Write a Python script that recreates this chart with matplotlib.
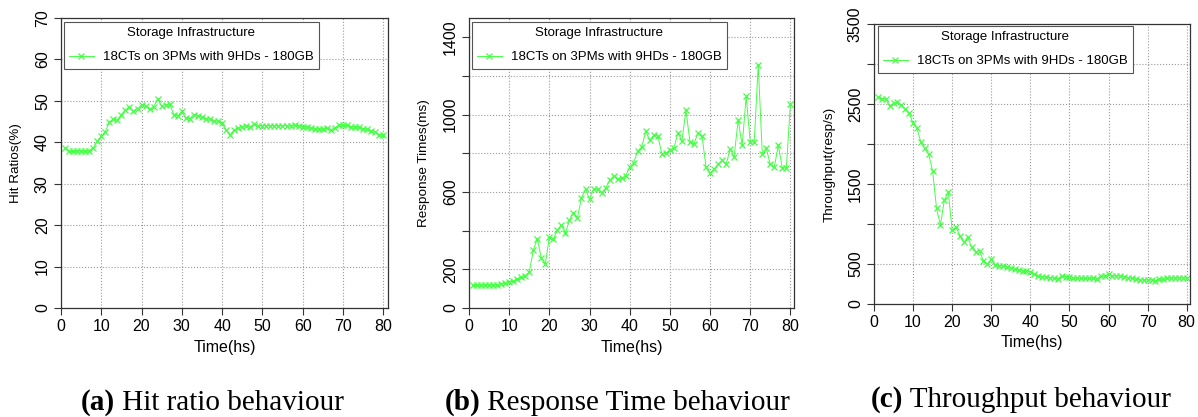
import matplotlib.pyplot as plt

plt.rcParams['font.family'] = ['Liberation Sans', 'DejaVu Sans']

hours = list(range(1, 81))

hit_ratio = [
    38.6, 37.8, 37.8, 38.0, 38.0, 37.8, 38.0, 38.6, 40.2, 41.4,
    42.6, 44.8, 45.6, 45.3, 46.7, 47.7, 48.5, 47.5, 48.0, 49.1,
    48.7, 48.0, 48.5, 50.5, 48.7, 49.1, 49.2, 46.7, 46.3, 47.5,
    45.9, 45.7, 46.7, 46.4, 46.1, 45.7, 45.7, 45.1, 45.1, 44.6,
    43.0, 41.8, 43.0, 43.4, 43.8, 44.0, 43.8, 44.3, 44.0, 44.0,
    44.0, 44.0, 44.0, 44.0, 44.0, 44.0, 44.0, 44.2, 44.0, 43.8,
    43.8, 43.4, 43.2, 43.3, 43.2, 43.4, 43.0, 43.4, 44.2, 44.2,
    44.1, 43.8, 43.8, 43.6, 43.3, 43.2, 42.8, 42.5, 41.8, 41.8,
]

response_time = [
    118, 118, 119, 120, 121, 120, 121, 124, 130, 135,
    138, 150, 159, 164, 185, 299, 358, 259, 228, 368,
    358, 401, 429, 389, 453, 493, 467, 570, 614, 562,
    614, 614, 596, 619, 660, 683, 665, 671, 683, 731,
    752, 812, 833, 913, 869, 894, 890, 798, 800, 816,
    826, 907, 864, 1023, 861, 850, 904, 890, 729, 697,
    717, 743, 764, 743, 821, 783, 973, 842, 1094, 861,
    859, 1258, 798, 826, 743, 729, 843, 722, 726, 1053,
]

throughput = [
    2583, 2567, 2562, 2475, 2508, 2521, 2483, 2433, 2383, 2258,
    2196, 2021, 1946, 1871, 1662, 1196, 988, 1300, 1396, 925,
    958, 850, 771, 833, 708, 646, 667, 537, 500, 558,
    488, 479, 475, 467, 454, 433, 425, 417, 413, 404,
    371, 350, 342, 333, 329, 325, 313, 350, 342, 333,
    321, 321, 321, 321, 321, 321, 308, 350, 350, 371,
    354, 354, 350, 342, 329, 321, 313, 300, 300, 300,
    300, 292, 308, 313, 321, 325, 329, 329, 329, 329,
]

series_label = "18CTs on 3PMs with 9HDs - 180GB"
legend_title = "Storage Infrastructure"

panels = [
    dict(y=hit_ratio, ylabel="Hit Ratios(%)", ylim=(0, 70), xmax=81.2,
         yticks=[0, 10, 20, 30, 40, 50, 60, 70],
         ylabels=["0", "10", "20", "30", "40", "50", "60", "70"],
         rect=[61, 18, 327, 290], leg=(64, 22),
         caption=("(a)", "Hit ratio behaviour"), cap_x=212, cap_y=410),
    dict(y=response_time, ylabel="Response Times(ms)", ylim=(0, 1500), xmax=80.9,
         yticks=[0, 200, 400, 600, 800, 1000, 1200, 1400],
         ylabels=["0", "200", "", "600", "", "1000", "", "1400"],
         rect=[469, 18, 325, 290], leg=(472, 22),
         caption=("(b)", "Response Time behaviour"), cap_x=617, cap_y=410),
    dict(y=throughput, ylabel="Throughput(resp/s)", ylim=(0, 3500), xmax=80.85,
         yticks=[0, 500, 1000, 1500, 2000, 2500, 3000, 3500],
         ylabels=["0", "500", "", "1500", "", "2500", "", "3500"],
         rect=[874, 24, 316, 280], leg=(878, 26),
         caption=("(c)", "Throughput behaviour"), cap_x=1021, cap_y=407),
]

W, H = 1198, 417
fig = plt.figure(figsize=(W / 100, H / 100), dpi=100)

green = "#44ff44"
frame_col = "#333333"

for p in panels:
    l, t, w, h = p["rect"]
    ax = fig.add_axes([l / W, 1 - (t + h) / H, w / W, h / H])

    ax.plot(hours, p["y"], color=green, lw=0.7, marker="x", ms=5, mew=0.9,
            label=series_label)

    ax.set_xlim(0, p["xmax"])
    ax.set_ylim(*p["ylim"])
    ax.set_xticks(range(0, 81, 10))
    ax.set_yticks(p["yticks"])
    ax.set_yticklabels(p["ylabels"], rotation=90, va="center")

    ax.grid(True, color="#999999", linestyle=":", lw=0.8)
    ax.set_axisbelow(True)
    for s in ax.spines.values():
        s.set_color(frame_col)
        s.set_linewidth(0.9)
    ax.tick_params(direction="out", length=5, width=0.8, color=frame_col,
                   labelsize=11.5, pad=3)

    ax.set_xlabel("Time(hs)", fontsize=11.5)
    ax.xaxis.set_label_coords(0.5, -0.11)
    ax.set_ylabel(p["ylabel"], fontsize=9.7)
    ax.yaxis.set_label_coords(-0.12, 0.5)

    lx, ly = p["leg"]
    leg = ax.legend(title=legend_title, loc="upper left",
                    bbox_to_anchor=((lx - l) / w, 1 - (ly - t) / h),
                    borderaxespad=0, fontsize=9.5, title_fontsize=9.5,
                    fancybox=False, framealpha=1, borderpad=0.4,
                    handlelength=1.85, handletextpad=0.7, labelspacing=0.9)
    frame = leg.get_frame()
    frame.set_edgecolor("#555555")
    frame.set_linewidth(0.8)

# figure captions: bold tag followed by the plain description
renderer = fig.canvas.get_renderer()
for p in panels:
    tag, desc = p["caption"]
    y = 1 - p["cap_y"] / H
    t1 = fig.text(0, y, tag, fontsize=21, fontweight="bold",
                  family="Liberation Serif", va="baseline")
    t2 = fig.text(0, y, " " + desc, fontsize=21,
                  family="Liberation Serif", va="baseline")
    w1 = t1.get_window_extent(renderer).width
    w2 = t2.get_window_extent(renderer).width
    x0 = p["cap_x"] - (w1 + w2) / 2
    t1.set_x(x0 / W)
    t2.set_x((x0 + w1) / W)

fig.savefig("out.png", dpi=100)
